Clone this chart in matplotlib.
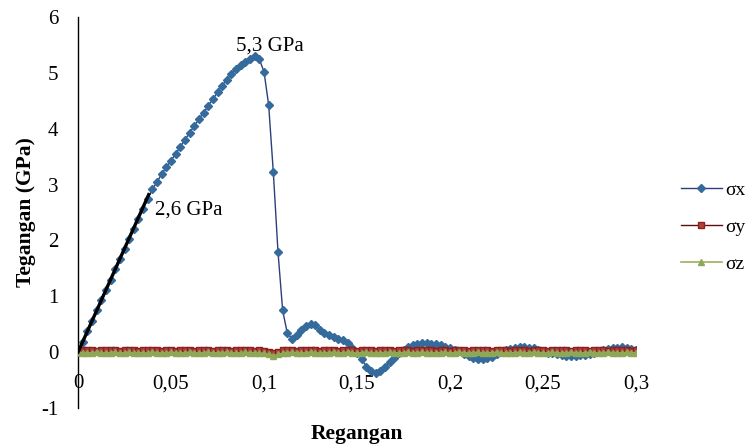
import numpy as np
import matplotlib
matplotlib.use("Agg")
import matplotlib.pyplot as plt

plt.rcParams['font.family'] = ['Liberation Serif', 'DejaVu Serif']
plt.rcParams['axes.unicode_minus'] = False

# strain samples (step 0.0025)
regangan = np.round(np.arange(121) * 0.0025, 4)

# stress components, GPa
sigma_x = [
    0.00, 0.19, 0.38, 0.56, 0.75, 0.93, 1.12, 1.30, 1.49, 1.67,
    1.85, 2.03, 2.21, 2.39, 2.57, 2.75, 2.92, 3.05, 3.19, 3.31,
    3.43, 3.55, 3.68, 3.80, 3.93, 4.05, 4.17, 4.29, 4.41, 4.53,
    4.65, 4.77, 4.88, 4.98, 5.07, 5.14, 5.20, 5.25, 5.30, 5.24,
    5.02, 4.42, 3.22, 1.80, 0.75, 0.34, 0.24, 0.30, 0.40, 0.46,
    0.50, 0.48, 0.40, 0.34, 0.30, 0.27, 0.24, 0.21, 0.16, 0.08,
    -0.02, -0.12, -0.26, -0.34, -0.37, -0.33, -0.27, -0.18, -0.10, -0.02,
    0.04, 0.09, 0.12, 0.14, 0.16, 0.16, 0.15, 0.14, 0.12, 0.10,
    0.08, 0.04, 0.02, -0.03, -0.07, -0.10, -0.12, -0.12, -0.11, -0.08,
    -0.04, 0.00, 0.03, 0.06, 0.08, 0.09, 0.09, 0.08, 0.07, 0.04,
    0.01, -0.01, -0.02, -0.04, -0.06, -0.07, -0.07, -0.07, -0.06, -0.05,
    -0.03, -0.01, 0.01, 0.04, 0.05, 0.07, 0.08, 0.09, 0.08, 0.05,
    0.03,
]
sigma_y = [
    0.00, 0.03, 0.04, 0.03, 0.02, 0.04, 0.03, 0.03, 0.04, 0.02,
    0.03, 0.04, 0.03, 0.02, 0.03, 0.04, 0.03, 0.03, 0.02, 0.04,
    0.03, 0.02, 0.04, 0.03, 0.03, 0.02, 0.04, 0.03, 0.04, 0.02,
    0.03, 0.04, 0.03, 0.02, 0.04, 0.03, 0.03, 0.04, 0.02, 0.03,
    0.02, 0.01, -0.02, 0.01, 0.03, 0.04, 0.03, 0.02, 0.04, 0.03,
    0.03, 0.04, 0.02, 0.03, 0.04, 0.03, 0.02, 0.03, 0.04, 0.03,
    0.02, 0.04, 0.03, 0.03, 0.02, 0.04, 0.03, 0.04, 0.02, 0.03,
    0.04, 0.03, 0.02, 0.03, 0.04, 0.03, 0.03, 0.02, 0.04, 0.03,
    0.02, 0.03, 0.04, 0.03, 0.02, 0.04, 0.03, 0.03, 0.04, 0.02,
    0.03, 0.04, 0.03, 0.02, 0.03, 0.04, 0.03, 0.02, 0.04, 0.03,
    0.03, 0.02, 0.04, 0.03, 0.04, 0.03, 0.02, 0.03, 0.04, 0.03,
    0.02, 0.04, 0.03, 0.03, 0.02, 0.04, 0.03, 0.04, 0.03, 0.02,
    0.03,
]
sigma_z = [
    0.00, -0.01, -0.02, -0.01, 0.00, -0.02, -0.01, -0.01, 0.00, -0.02,
    -0.01, 0.00, -0.02, -0.01, -0.01, -0.02, 0.00, -0.01, -0.02, -0.01,
    0.00, -0.01, -0.02, -0.01, 0.00, -0.01, -0.02, -0.01, 0.00, -0.02,
    -0.01, -0.01, 0.00, -0.02, -0.01, -0.02, 0.00, -0.01, -0.01, -0.02,
    -0.02, -0.04, -0.07, -0.04, -0.02, -0.01, 0.00, -0.01, -0.02, -0.01,
    0.00, -0.01, -0.02, -0.01, -0.01, 0.00, -0.02, -0.01, 0.00, -0.01,
    -0.02, -0.01, 0.00, -0.01, -0.02, -0.01, -0.01, 0.00, -0.02, -0.01,
    -0.01, 0.00, -0.02, -0.01, 0.00, -0.01, -0.02, -0.01, -0.01, 0.00,
    -0.02, -0.01, 0.00, -0.01, -0.02, -0.01, 0.00, -0.02, -0.01, -0.01,
    0.00, -0.01, -0.02, -0.01, -0.01, 0.00, -0.02, -0.01, 0.00, -0.01,
    -0.01, -0.02, 0.00, -0.01, -0.02, -0.01, 0.00, -0.01, -0.02, -0.01,
    0.00, -0.01, -0.02, -0.01, 0.00, -0.01, -0.01, -0.02, 0.00, -0.01,
    -0.01,
]

# elastic fit line
fit_x = [0.0, 0.038]
fit_y = [0.0, 2.82]

x_ticks = [0, 0.05, 0.1, 0.15, 0.2, 0.25, 0.3]
x_labels = ['0', '0,05', '0,1', '0,15', '0,2', '0,25', '0,3']
y_ticks = [-1, 0, 1, 2, 3, 4, 5, 6]

fig = plt.figure(figsize=(7.51, 4.46), dpi=100)
ax = fig.add_axes([0.1039, 0.0852, 0.743, 0.8767])

ax.plot(regangan, sigma_x, color='#2C3F7A', lw=1.0, marker='D', ms=4.0,
        mfc='#346A9C', mec='#346A9C', label='σx', zorder=3)
ax.plot(regangan, sigma_y, color='#5C0F0F', lw=1.0, marker='s', ms=4.0,
        mfc='#B5403B', mec='#8A2020', label='σy', zorder=4)
ax.plot(regangan, sigma_z, color='#9BB05F', lw=1.2, marker='^', ms=5.0,
        mfc='#8DA856', mec='#8DA856', label='σz', zorder=5)
ax.plot(fit_x, fit_y, color='black', lw=2.4, zorder=6)

ax.text(0.1032, 5.48, '5,3 GPa', fontsize=15, ha='center', va='center')
ax.text(0.0412, 2.54, '2,6 GPa', fontsize=15, ha='left', va='center')

ax.set_xlim(0, 0.3)
ax.set_ylim(-1, 6)
ax.set_xticks(x_ticks)
ax.set_xticklabels(x_labels)
ax.set_yticks(y_ticks)

ax.spines['top'].set_visible(False)
ax.spines['right'].set_visible(False)
ax.spines['bottom'].set_position(('data', 0))
ax.spines['bottom'].set_color('#808080')
ax.spines['left'].set_linewidth(1.0)
ax.tick_params(axis='x', length=0, pad=16, labelsize=15)
ax.tick_params(axis='y', length=0, pad=14, labelsize=15)

ax.set_xlabel('Regangan', fontsize=15.5, fontweight='bold')
ax.xaxis.set_label_coords(0.5, -0.04)
ax.set_ylabel('Tegangan (GPa)', fontsize=15.5, fontweight='bold', labelpad=4)

ax.legend(loc='center left', bbox_to_anchor=(681 / 751, 1 - 227 / 446),
          bbox_transform=fig.transFigure, frameon=False, fontsize=14,
          handlelength=2.1, handletextpad=0.15, labelspacing=1.0,
          borderpad=0, borderaxespad=0)

fig.savefig('out.png', dpi=100)
